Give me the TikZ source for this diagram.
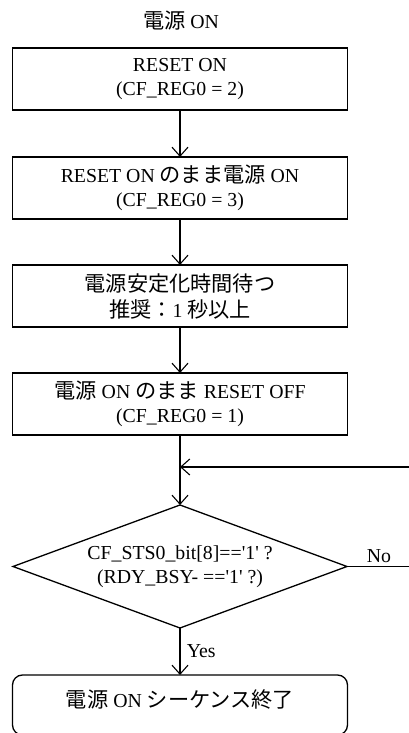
\documentclass[tikz,border=0pt]{standalone}
\usepackage{fontspec}
\setmainfont{Liberation Serif}
\newfontfamily\jpfont{Noto Sans CJK JP}[Scale=1.07]
\usetikzlibrary{shapes,arrows.meta,positioning}
\newcommand\ja[1]{{\jpfont #1}}
\newcommand\q{\textquotesingle}

\begin{document}
\begin{tikzpicture}[x=1pt,y=1pt,% styles for all nodes and edges
			every node/.style={
				align=center,		% so that "\\" breaks the line
				font=\fontsize{19.8}{24}\selectfont
			},
			box/.style={rectangle,draw=black,line width=1.3pt,outer sep=0pt,minimum width=335pt,minimum height=62pt},
			every edge/.style={draw,line width=1.1pt},
			>={Straight Barb[length=9pt,width=16pt]}
		]
		\useasboundingbox (0,0) rectangle (408,733);
		\node(T) at (181,712){\ja{電源} ON};
		\node[box](R1) at (180,654){RESET ON\\(CF\_REG0 = 2)};
		\node[box](R2)[below=47pt of R1]{RESET ON \ja{のまま電源} ON\\(CF\_REG0 = 3)};
		\node[box](R3)[below=46pt of R2]{\ja{電源安定化時間待つ}\\[2pt]\ja{推奨：}1 \ja{秒以上}};
		\node[box](R4)[below=46pt of R3]{\ja{電源} ON \ja{のまま} RESET OFF\\(CF\_REG0 = 1)};
		\node[diamond,draw=black,line width=1.3pt,outer sep=0pt,inner sep=0pt,aspect=2.7,
			minimum width=334pt,minimum height=123pt](R5)[below=70pt of R4]
			{CF\_STS0\_bit[8]==\q1\q{} ?\\(RDY\_BSY- ==\q1\q{} ?)};
		\node[box,rounded corners=10pt,minimum height=60pt,text depth=12pt](R6)[below=47pt of R5]{\ja{電源} ON \ja{シーケンス終了}};
		% loop back from "No"
		\coordinate (J) at ([yshift=-32pt]R4.south);
		\coordinate (C1) at ([xshift=64pt]R5.east);
		\coordinate (C2) at (C1 |- J);
		\path[->]
		(R1)edge []	node [] {} (R2)
		(R2)edge []	node [] {} (R3)
		(R3)edge []	node [] {} (R4)
		(R4)edge []	node [] {} (R5)
		(R5)edge []	node [right,xshift=3pt] {Yes} (R6)
		;
		\draw[->,line width=1.1pt] (R5.east) -- node[above] {No} (C1) -- (C2) -- (J);
	\end{tikzpicture}
\end{document}
